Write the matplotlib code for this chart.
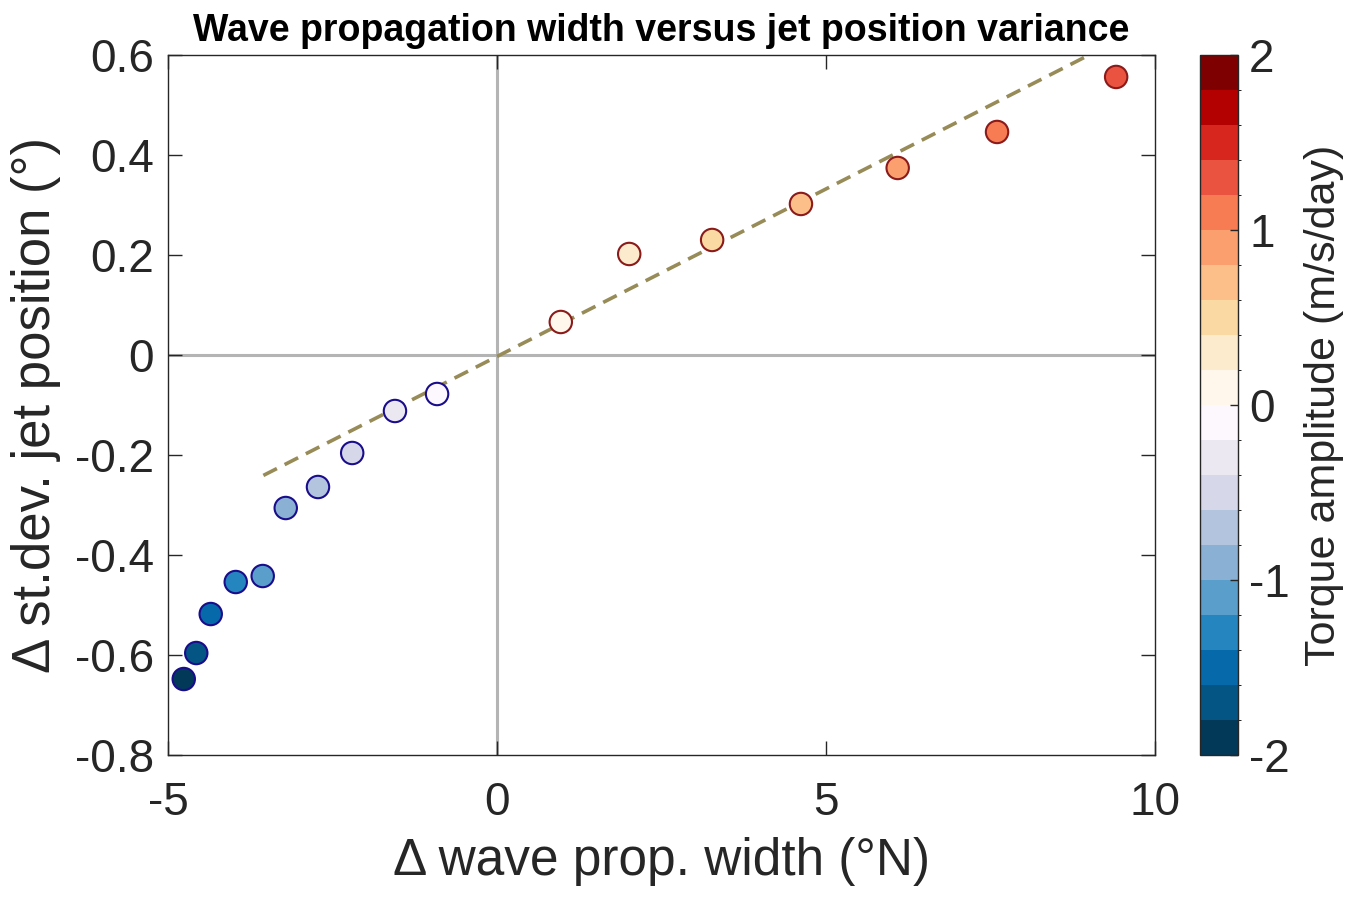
import matplotlib
matplotlib.use("Agg")
import matplotlib.pyplot as plt
import numpy as np
from matplotlib.colors import ListedColormap, BoundaryNorm

# data
wave_width = [-4.76, -4.57, -4.35, -3.97, -3.56, -3.21, -2.72, -2.20, -1.55, -0.91,
              0.97, 2.01, 3.27, 4.62, 6.09, 7.60, 9.41]
jet_std = [-0.648, -0.596, -0.518, -0.454, -0.442, -0.306, -0.264, -0.196, -0.112, -0.078,
           0.066, 0.202, 0.230, 0.302, 0.374, 0.446, 0.556]
torque = [-1.9, -1.7, -1.5, -1.3, -1.1, -0.9, -0.7, -0.5, -0.3, -0.1,
          0.1, 0.3, 0.5, 0.7, 0.9, 1.1, 1.3]

fit_slope = 0.067
fit_intercept = -0.003
fit_x = [-3.55, 9.0]

# colorbar levels, bottom (-2) to top (2)
level_colors = ['#023858', '#045583', '#0669aa', '#2586bf', '#5a9fcb',
                '#8ab1d4', '#b3c4df', '#d6d7e8', '#ece8f2', '#fdf8fd',
                '#fff6ec', '#fdebce', '#fbd9a3', '#fdbf8a', '#fc9f6e',
                '#f77b53', '#ea5340', '#d7261e', '#b30000', '#7f0000']
levels = np.linspace(-2, 2, 21)

cmap = ListedColormap(level_colors)
norm = BoundaryNorm(levels, cmap.N)

plt.rcParams['font.family'] = ['Liberation Sans', 'DejaVu Sans']
plt.rcParams['axes.unicode_minus'] = False
txt = '#262626'

fig = plt.figure(figsize=(13.48, 8.98), dpi=100)
ax = fig.add_axes([0.1246, 0.1592, 0.7322, 0.7796])
cax = fig.add_axes([0.8902, 0.1592, 0.0282, 0.7796])

ax.axhline(0, color='#b4b4b4', lw=2.2, zorder=1)
ax.axvline(0, color='#b4b4b4', lw=2.2, zorder=1)

fx = np.array(fit_x)
ax.plot(fx, fit_slope * fx + fit_intercept, ls=(0, (4.2, 2.4)), color='#978b58', lw=2.6, zorder=2)

edges = ['#8b1a1a' if t > 0 else '#1a0d8c' for t in torque]
ax.scatter(wave_width, jet_std, c=torque, cmap=cmap, norm=norm, s=260,
           edgecolors=edges, linewidths=1.5, zorder=3)

ax.set_xlim(-5, 10)
ax.set_ylim(-0.8, 0.6)
ax.set_xticks([-5, 0, 5, 10])
ax.set_yticks(np.arange(-0.8, 0.61, 0.2))
ax.set_xticklabels(['-5', '0', '5', '10'])
ax.set_yticklabels(['-0.8', '-0.6', '-0.4', '-0.2', '0', '0.2', '0.4', '0.6'])
ax.tick_params(direction='in', length=10, width=1, labelsize=33, colors='#262626',
               top=True, right=True, pad=10)
ax.tick_params(axis='x', pad=19)
for s in ax.spines.values():
    s.set_color('#262626')
    s.set_linewidth(1)

ax.set_xlabel('Δ wave prop. width (°N)', fontsize=37, color=txt, labelpad=8)
ax.set_ylabel('Δ st.dev. jet position (°)', fontsize=38, color=txt, labelpad=10)
ax.set_title('Wave propagation width versus jet position variance', fontsize=27,
             fontweight='bold', color='black', pad=10)

cb = fig.colorbar(plt.cm.ScalarMappable(norm=norm, cmap=cmap), cax=cax)
cb.set_ticks([-2, -1, 0, 1, 2])
cb.ax.tick_params(direction='in', length=6, width=1, labelsize=33, colors='#262626', pad=8)
cb.outline.set_edgecolor('#262626')
cb.outline.set_linewidth(1)
cb.set_label('Torque amplitude (m/s/day)', fontsize=31, color=txt, labelpad=10)

fig.savefig('out.png', dpi=100)
